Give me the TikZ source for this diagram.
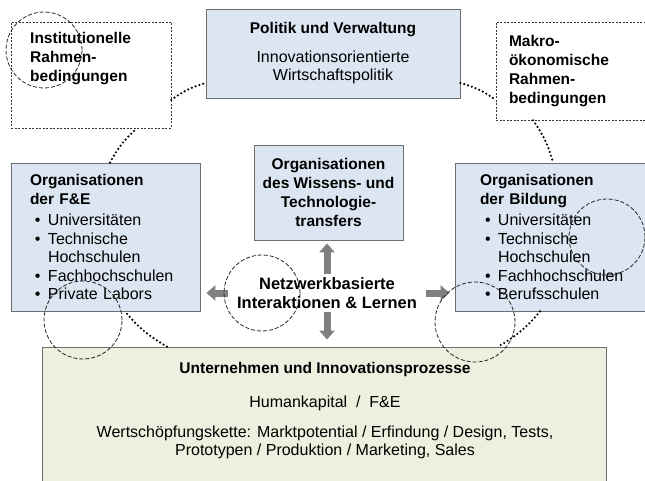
\documentclass[tikz,border=0pt]{standalone}
\usepackage{fontspec}
\setmainfont{Liberation Sans}
\usetikzlibrary{arrows.meta}
\definecolor{boxblue}{RGB}{220,230,242}
\definecolor{boxgreen}{RGB}{235,241,222}
\definecolor{edgegray}{RGB}{110,110,110}
\definecolor{arrowgray}{RGB}{128,128,128}
\newcommand{\head}[1]{{\fontsize{15.5}{18.5}\selectfont\bfseries #1}}
\newcommand{\bul}[1]{\hspace*{5pt}\makebox[13pt][l]{\textbullet}#1}
\newcommand{\bulcont}[1]{\hspace*{18pt}#1}

\begin{document}
\begin{tikzpicture}[x=1pt,y=1pt]
\tikzstyle{every node}+=[inner sep=0pt, font=\fontsize{16}{18.5}\selectfont]
\tikzstyle{boldtext}=[font=\fontsize{15.5}{19}\selectfont\bfseries]
\tikzstyle{bluebox}=[draw=edgegray, line width=0.8pt, fill=boxblue]
\tikzstyle{greenbox}=[draw=edgegray, line width=0.8pt, fill=boxgreen]
\tikzstyle{framebox}=[draw=black!80, line width=0.5pt, dash pattern=on 2pt off 1.5pt]
\tikzstyle{dashcircle}=[draw=black!85, line width=0.8pt, dash pattern=on 4pt off 2pt]
\tikzstyle{dotlink}=[line width=2.4pt, dash pattern=on 0pt off 4pt, line cap=round]
\tikzstyle{bigarrow}=[draw=arrowgray, line width=7pt, -{Triangle[length=9pt,width=15pt]}]
\useasboundingbox (0,0) rectangle (645,-481);
\node [framebox, minimum width=160, minimum height=106] (inst) at (91,-75) {};
\node [boldtext, anchor=north west, align=left] (insttext) at (30,-32) {Institutionelle\\Rahmen-\\bedingungen};
\node [bluebox, minimum width=254, minimum height=89, align=center] (politik) at (333,-53.5) {\head{Politik und Verwaltung}\\[10pt]Innovationsorientierte\\Wirtschaftspolitik};
\node [framebox, boldtext, minimum height=98, text width=138, inner xsep=13, align=left] (makro) at (578,-71) {Makro-\\ökonomische\\Rahmen-\\bedingungen};
\node [bluebox, minimum height=148, text width=151, inner xsep=19, align=left] (fue) at (105.5,-237) {\head{Organisationen}\\\head{der F\&E}\\[3pt]\bul{Universitäten}\\\bul{Technische}\\\bulcont{Hochschulen}\\\bul{Fachhochschulen}\\\bul{Private Labors}};
\node [bluebox, boldtext, minimum width=149, minimum height=95, align=center] (wissen) at (328.5,-192.5) {Organisationen\\des Wissens- und\\Technologie-\\transfers};
\node [bluebox, minimum height=148, text width=195, inner xsep=25, align=left] (bildung) at (577.5,-237) {\head{Organisationen}\\\head{der Bildung}\\[3pt]\bul{Universitäten}\\\bul{Technische}\\\bulcont{Hochschulen}\\\bul{Fachhochschulen}\\\bul{Berufsschulen}};
\node [greenbox, minimum width=564, minimum height=173] (unt) at (324,-433.5) {};
\node [anchor=north, align=center] (unttext) at (325,-362) {\head{Unternehmen und Innovationsprozesse}\\[16pt]Humankapital~~/~~F\&E\\[11pt]Wertschöpfungskette: Marktpotential / Erfindung / Design, Tests,\\Prototypen / Produktion / Marketing, Sales};
\node [align=center, inner xsep=9pt, inner ysep=3pt, font=\fontsize{16.5}{18.5}\selectfont\bfseries] (net) at (327,-293) {Netzwerkbasierte\\Interaktionen \& Lernen};
\draw [bigarrow, shorten >=3pt] (net.north) -- (net.north |- wissen.south);
\draw [bigarrow, shorten >=6pt] (net.west) -- (net.west -| fue.east);
\draw [bigarrow, shorten >=5pt] (net.east) -- (net.east -| bildung.west);
\draw [bigarrow, shorten >=7pt] (net.south) -- (net.south |- unt.north);
\draw [dotlink] ([yshift=-25pt]inst.east) to[bend left=10] ([yshift=-29.5pt]politik.west);
\draw [dotlink] ([yshift=-29.5pt]politik.east) to[bend left=10] ([yshift=-29pt]makro.west);
\draw [dotlink] ([xshift=-45pt]makro.south) to[bend left=10] ([xshift=-24.5pt]bildung.north);
\draw [dotlink] ([xshift=-37.5pt]bildung.south) to[bend left=10] ([xshift=174pt]unt.north);
\draw [dotlink] ([xshift=-157pt]unt.north) to[bend left=10] ([xshift=19.5pt]fue.south);
\draw [dotlink] ([xshift=4.5pt]fue.north) to[bend left=10] ([xshift=46pt]inst.south);
\draw [dashcircle] (44,-50) circle (38);
\draw [dashcircle] (83,-320) circle (39);
\draw [dashcircle] (262,-293) circle (38);
\draw [dashcircle] (607,-237) circle (38);
\draw [dashcircle] (475,-322) circle (40);
\end{tikzpicture}
\end{document}
